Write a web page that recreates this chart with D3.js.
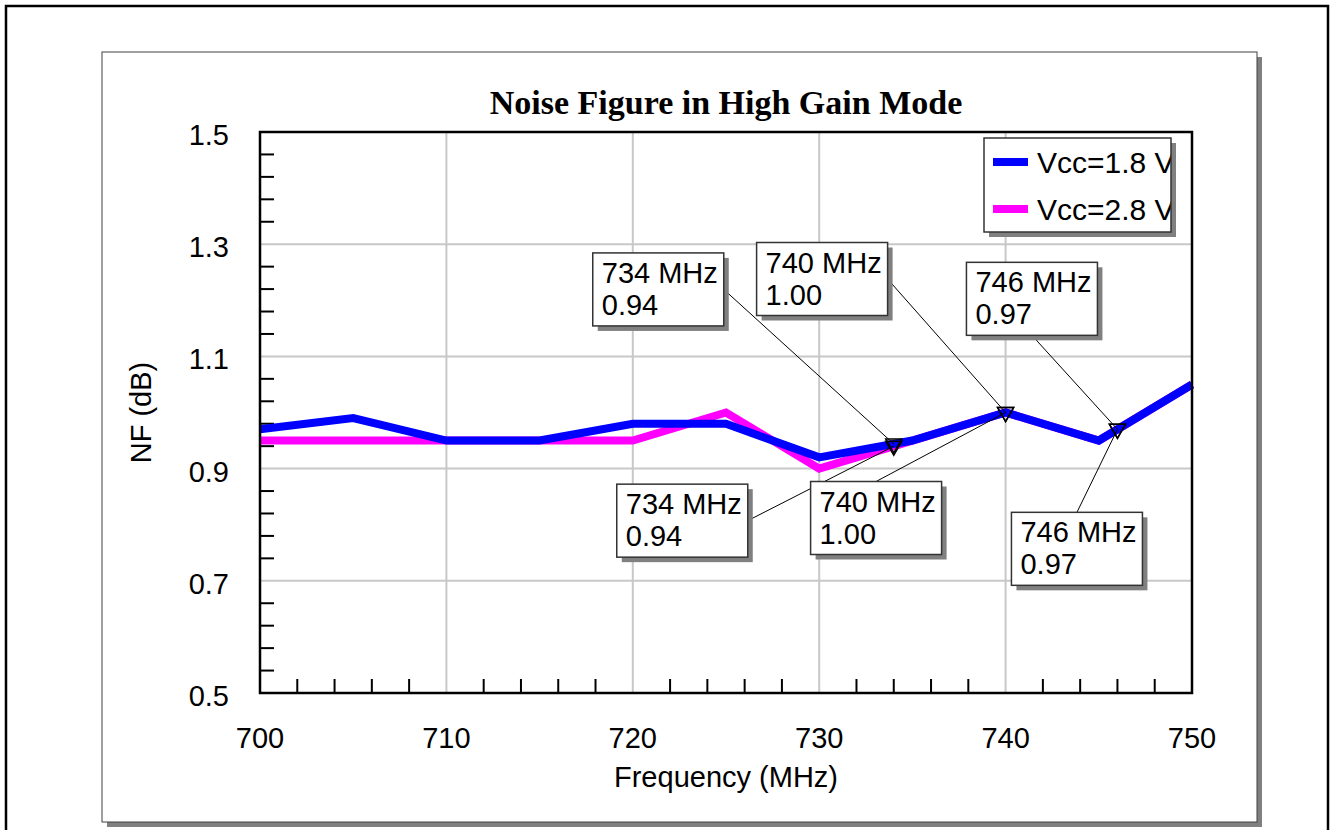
<!DOCTYPE html>
<html>
<head>
<meta charset="utf-8">
<script src="https://cdn.jsdelivr.net/npm/d3@7"></script>
<style>
    body { margin: 0; background: #fff; }
    text { font-family: "Liberation Sans", Arial, sans-serif; fill: #000; }
</style>
</head>
<body>
<div id="graphDiv"></div>
<script>
// data
var freqs = [700, 705, 710, 715, 720, 725, 730, 735, 740, 745, 750];
var nfVcc18 = [0.97, 0.99, 0.95, 0.95, 0.98, 0.98, 0.92, 0.95, 1.00, 0.95, 1.05];
var nfVcc28 = [0.95, 0.95, 0.95, 0.95, 0.95, 1.00, 0.90, 0.95, 1.00, 0.95, 1.05];
var seriesNames = ["Vcc=1.8 V", "Vcc=2.8 V"];
var seriesColors = ["#0000ff", "#ff00ff"];

// marker readouts
var markerFreqs = [734, 740, 746];
var markerVals = [0.94, 1.00, 0.97];

var xTicks = [700, 710, 720, 730, 740, 750];
var yTicks = [0.5, 0.7, 0.9, 1.1, 1.3, 1.5];

// callout boxes, offset from marker in px (layout only)
var calloutLayout = [
    [{dx: -301, dy: -191, side: "right"}, {dx: -249, dy: -170, side: "right"}, {dx: -151, dy: -167, side: "bottom"}],
    [{dx: -277, dy: 38, side: "right"}, {dx: -195, dy: 69, side: "top"}, {dx: -106, dy: 83, side: "top"}]
];

var W = 1330, H = 830;
var plot = {left: 260, right: 1192, top: 132, bottom: 693};
var fontPx = 29;

var svg = d3.select("#graphDiv").append("svg")
    .attr("width", W)
    .attr("height", H);

// outer frame
svg.append("rect")
    .attr("x", 6).attr("y", 6).attr("width", 1322).attr("height", 840)
    .attr("fill", "#fff").attr("stroke", "#000").attr("stroke-width", 2.5);

// panel with drop shadow
svg.append("rect")
    .attr("x", 107).attr("y", 57).attr("width", 1155).attr("height", 770)
    .attr("fill", "#808080");
svg.append("rect")
    .attr("x", 102).attr("y", 52).attr("width", 1155).attr("height", 770)
    .attr("fill", "#fff").attr("stroke", "#404040").attr("stroke-width", 1);

var xScale = d3.scaleLinear().domain([700, 750]).range([plot.left, plot.right]);
var yScale = d3.scaleLinear().domain([0.5, 1.5]).range([plot.bottom, plot.top]);

var g = svg.append("g");

// grid
g.append("g").selectAll("line")
    .data(xTicks.slice(1, -1))
    .join("line")
    .attr("x1", function (d) { return xScale(d); })
    .attr("x2", function (d) { return xScale(d); })
    .attr("y1", plot.top).attr("y2", plot.bottom)
    .attr("stroke", "#c8c8c8").attr("stroke-width", 2);
g.append("g").selectAll("line")
    .data(yTicks.slice(1, -1))
    .join("line")
    .attr("x1", plot.left).attr("x2", plot.right)
    .attr("y1", function (d) { return yScale(d); })
    .attr("y2", function (d) { return yScale(d); })
    .attr("stroke", "#c8c8c8").attr("stroke-width", 2);

// minor ticks (inside the plot)
var xMinor = d3.range(700, 750, 2).filter(function (d) { return d % 10 !== 0; });
var yMinor = d3.range(0, 25).map(function (i) { return 0.5 + i * 0.04; })
    .filter(function (d) { return Math.abs((d - 0.5) / 0.2 - Math.round((d - 0.5) / 0.2)) > 1e-6; });

g.append("g").selectAll("line")
    .data(xMinor)
    .join("line")
    .attr("x1", function (d) { return xScale(d); })
    .attr("x2", function (d) { return xScale(d); })
    .attr("y1", plot.bottom).attr("y2", plot.bottom - 14)
    .attr("stroke", "#000").attr("stroke-width", 2);
g.append("g").selectAll("line")
    .data(yMinor)
    .join("line")
    .attr("x1", plot.left).attr("x2", plot.left + 14)
    .attr("y1", function (d) { return yScale(d); })
    .attr("y2", function (d) { return yScale(d); })
    .attr("stroke", "#000").attr("stroke-width", 2);

// series lines, blue drawn last (on top)
var series = [nfVcc18, nfVcc28];
var lineFunc = d3.line()
    .x(function (d, i) { return xScale(freqs[i]); })
    .y(function (d) { return yScale(d); });

[1, 0].forEach(function (s) {
    g.append("path")
        .attr("d", lineFunc(series[s]))
        .attr("fill", "none")
        .attr("stroke", seriesColors[s])
        .attr("stroke-width", 8)
        .attr("stroke-linejoin", "miter");
});

// frame: axes + top/right border
g.append("path")
    .attr("d", "M" + plot.left + "," + plot.top + "H" + plot.right + "V" + plot.bottom + "H" + plot.left + "Z")
    .attr("fill", "none").attr("stroke", "#000").attr("stroke-width", 2.5);

// tick labels
g.append("g").selectAll("text")
    .data(xTicks)
    .join("text")
    .attr("x", function (d) { return xScale(d); })
    .attr("y", 748)
    .attr("text-anchor", "middle")
    .attr("font-size", fontPx)
    .text(function (d) { return d; });
g.append("g").selectAll("text")
    .data(yTicks)
    .join("text")
    .attr("x", 229)
    .attr("y", function (d) { return yScale(d) + 13; })
    .attr("text-anchor", "end")
    .attr("font-size", fontPx)
    .text(function (d) { return d3.format(".1f")(d); });

// axis titles
svg.append("text")
    .attr("x", (plot.left + plot.right) / 2).attr("y", 787)
    .attr("text-anchor", "middle").attr("font-size", fontPx)
    .text("Frequency (MHz)");
svg.append("text")
    .attr("transform", "translate(151," + ((plot.top + plot.bottom) / 2) + ") rotate(-90)")
    .attr("text-anchor", "middle").attr("font-size", fontPx)
    .text("NF (dB)");
svg.append("text")
    .attr("x", (plot.left + plot.right) / 2).attr("y", 114)
    .attr("text-anchor", "middle")
    .attr("style", "font-family:'Liberation Serif','Times New Roman',serif;font-weight:bold;font-size:34px;")
    .text("Noise Figure in High Gain Mode");

// markers + callouts
var boxW = 131, boxH = 73;
var callouts = svg.append("g");
series.forEach(function (vals, s) {
    var onLine = d3.scaleLinear().domain(freqs).range(vals);
    markerFreqs.forEach(function (f, k) {
        var mx = xScale(f), my = yScale(onLine(f));
        var lay = calloutLayout[s][k];
        var bx = mx + lay.dx, by = my + lay.dy;
        var ax, ay;
        if (lay.side === "right") { ax = bx + boxW; ay = by + boxH / 2; }
        else if (lay.side === "bottom") { ax = bx + boxW / 2; ay = by + boxH; }
        else { ax = bx + boxW / 2; ay = by; }

        callouts.append("line")
            .attr("x1", ax).attr("y1", ay).attr("x2", mx).attr("y2", my)
            .attr("stroke", "#000").attr("stroke-width", 1);

        g.append("path")
            .attr("d", "M" + (mx - 8) + "," + (my - 5) + "L" + (mx + 8) + "," + (my - 5) + "L" + mx + "," + (my + 9) + "Z")
            .attr("fill", "none").attr("stroke", "#000").attr("stroke-width", 1.5);

        var box = callouts.append("g").attr("transform", "translate(" + bx + "," + by + ")");
        box.append("rect")
            .attr("x", 5).attr("y", 5).attr("width", boxW).attr("height", boxH)
            .attr("fill", "#808080");
        box.append("rect")
            .attr("width", boxW).attr("height", boxH)
            .attr("fill", "#fff").attr("stroke", "#333").attr("stroke-width", 1.5);
        box.append("text").attr("x", 9).attr("y", 30).attr("font-size", fontPx).text(f + " MHz");
        box.append("text").attr("x", 9).attr("y", 62).attr("font-size", fontPx)
            .text(d3.format(".2f")(markerVals[k]));
    });
});

// legend (text clipped at the box edge like the original)
var leg = {x: 984, y: 138, w: 187, h: 94};
svg.append("clipPath").attr("id", "legClip")
    .append("rect").attr("x", leg.x).attr("y", leg.y).attr("width", leg.w).attr("height", leg.h);
svg.append("rect")
    .attr("x", leg.x + 5).attr("y", leg.y + 5).attr("width", leg.w).attr("height", leg.h)
    .attr("fill", "#808080");
svg.append("rect")
    .attr("x", leg.x).attr("y", leg.y).attr("width", leg.w).attr("height", leg.h)
    .attr("fill", "#fff");
var legItems = svg.append("g").attr("clip-path", "url(#legClip)");
seriesNames.forEach(function (name, i) {
    var yy = leg.y + 24 + i * 47;
    legItems.append("line")
        .attr("x1", leg.x + 9).attr("x2", leg.x + 44)
        .attr("y1", yy).attr("y2", yy)
        .attr("stroke", seriesColors[i]).attr("stroke-width", 8);
    legItems.append("text")
        .attr("x", leg.x + 53).attr("y", yy + 11)
        .attr("font-size", 30)
        .text(name);
});
svg.append("rect")
    .attr("x", leg.x).attr("y", leg.y).attr("width", leg.w).attr("height", leg.h)
    .attr("fill", "none").attr("stroke", "#333").attr("stroke-width", 1.5);
</script>
</body>
</html>
